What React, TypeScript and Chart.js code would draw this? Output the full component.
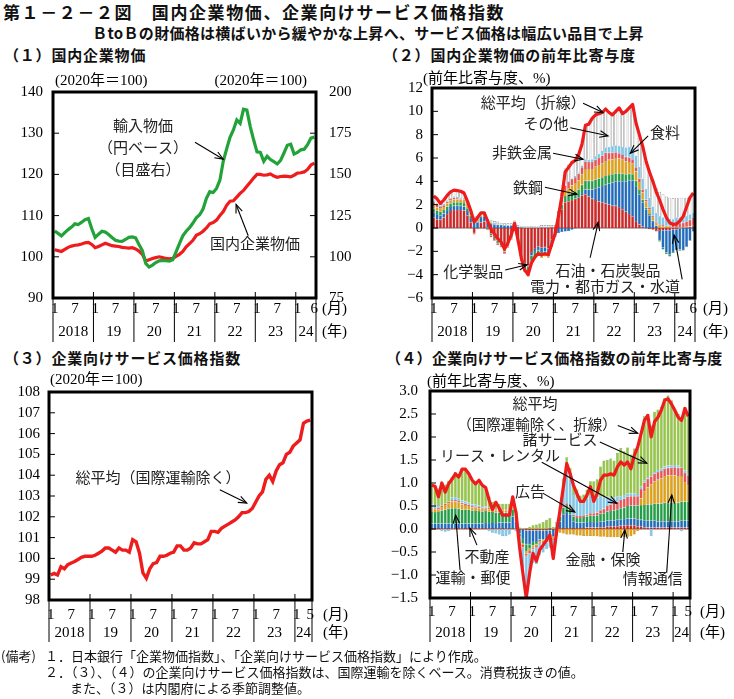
import React, { useEffect, useRef } from 'react';
import { Chart, registerables } from 'chart.js';
Chart.register(...registerables);

const SERIF = "'Liberation Serif', 'Noto Sans CJK JP', serif";
const JP = "'Noto Sans CJK JP', 'Noto Sans', sans-serif";

// ---------- categories ----------
const YEARS = ['2018', '19', '20', '21', '22', '23', '24'];
const MONTHS_A = YEARS.flatMap((y, j) => Array.from({ length: j === 6 ? 6 : 12 }, (_, m) => `${y}/${m + 1}`)); // 2018/1-2024/6
const MONTHS_B = YEARS.flatMap((y, j) => Array.from({ length: j === 6 ? 5 : 12 }, (_, m) => `${y}/${m + 1}`)); // 2018/1-2024/5

// ---------- (1) 国内企業物価 ----------
const DOMESTIC_CGPI = [
  101.7, 101.5, 101.3, 101.8, 102.3, 102.6, 102.8, 102.9, 103.1, 103.4, 103.5, 103.0,
  102.2, 102.5, 102.9, 103.3, 103.0, 102.7, 102.6, 102.5, 102.3, 102.2, 102.1, 102.2,
  101.9, 101.4, 100.6, 99.0, 99.3, 99.6, 99.8, 100.0, 99.8, 99.6, 99.5, 99.6,
  100.1, 100.6, 101.3, 102.4, 103.2, 104.0, 105.2, 105.6, 106.2, 107.0, 108.0, 108.3,
  108.9, 110.0, 111.0, 112.5, 113.5, 113.6, 114.5, 115.4, 116.1, 117.1, 118.1, 119.1,
  120.0, 120.0, 119.8, 119.9, 120.1, 119.6, 119.3, 119.5, 119.6, 119.5, 119.4, 119.8,
  120.3, 120.4, 120.6, 121.2, 122.3, 122.7,
];
const IMPORT_PRICE = [
  115.7, 114.2, 112.7, 114.7, 116.5, 118.0, 120.0, 119.6, 121.0, 122.5, 123.2, 117.0,
  111.7, 113.7, 115.5, 115.0, 113.5, 111.7, 110.0, 109.5, 109.3, 110.5, 111.8, 112.1,
  111.5, 107.5, 103.8, 96.0, 93.8, 95.0, 96.5, 97.5, 97.8, 97.6, 97.4, 98.2,
  103.0, 108.0, 112.7, 115.5, 117.7, 120.5, 123.6, 125.5, 129.0, 135.5, 139.5, 139.0,
  141.5, 146.5, 158.0, 165.5, 172.5, 177.0, 183.0, 181.0, 189.5, 189.0, 179.0, 171.0,
  163.7, 163.3, 158.0, 161.0, 159.0, 157.7, 156.3, 158.5, 163.0, 167.7, 168.3, 162.3,
  163.3, 164.9, 165.3, 168.0, 172.0, 172.6,
];

// ---------- (2) 国内企業物価の前年比寄与度 ----------
const CG_PETROLEUM = [
  0.9, 0.75, 0.7, 0.9, 1.2, 1.45, 1.55, 1.55, 1.55, 1.5, 1.1, 0.5,
  -0.45, -0.05, 0.5, 0.55, 0.05, -0.5, -0.75, -1.05, -1.2, -1.65, -1.2, -0.6,
  0.1, -0.9, -2.3, -3.0, -3.2, -2.15, -1.8, -1.6, -1.7, -1.65, -1.75, -1.0,
  -0.25, 0.8, 1.6, 2.2, 2.3, 2.4, 2.5, 2.6, 2.8, 2.9, 2.7, 2.5,
  2.4, 2.3, 2.2, 2.1, 2.0, 1.9, 1.9, 1.8, 1.6, 1.4, 1.2, 1.0,
  0.6, 0.3, 0.1, -0.05, -0.1, -0.15, -0.25, -0.25, -0.2, -0.2, -0.2, -0.15,
  -0.1, -0.05, 0.0, 0.05, 0.1, 0.15,
];
const CG_ELECTRIC = [
  0.45, 0.45, 0.4, 0.35, 0.35, 0.35, 0.35, 0.35, 0.35, 0.35, 0.35, 0.35,
  0.5, 0.5, 0.45, 0.45, 0.4, 0.35, 0.3, 0.25, 0.25, 0.2, 0.2, 0.2,
  0.15, 0.1, 0.05, 0.0, -0.1, -0.2, -0.25, -0.3, -0.35, -0.35, -0.4, -0.4,
  -0.5, -0.45, -0.35, -0.3, -0.25, -0.15, -0.05, 0.05, 0.2, 0.4, 0.6, 0.8,
  1.0, 1.2, 1.4, 1.6, 1.8, 2.0, 2.1, 2.2, 2.4, 2.6, 2.9, 3.1,
  3.0, 2.6, 2.1, 1.6, 1.1, 0.6, 0.2, -0.8, -1.5, -1.9, -2.1, -1.9,
  -1.7, -1.8, -1.9, -1.6, -1.1, -0.3,
];
const CG_CHEMICAL = [
  0.3, 0.3, 0.3, 0.3, 0.3, 0.3, 0.3, 0.3, 0.3, 0.3, 0.25, 0.2,
  0.1, 0.05, 0.0, -0.05, -0.1, -0.15, -0.2, -0.25, -0.3, -0.35, -0.35, -0.3,
  -0.2, -0.25, -0.35, -0.5, -0.55, -0.45, -0.4, -0.35, -0.35, -0.3, -0.3, -0.2,
  0.0, 0.2, 0.4, 0.55, 0.6, 0.65, 0.65, 0.65, 0.7, 0.75, 0.75, 0.75,
  0.75, 0.75, 0.75, 0.75, 0.75, 0.7, 0.7, 0.7, 0.65, 0.6, 0.55, 0.5,
  0.45, 0.35, 0.25, 0.15, 0.1, 0.05, -0.05, -0.1, -0.15, -0.15, -0.15, -0.1,
  -0.1, -0.1, -0.05, -0.05, 0.0, 0.05,
];
const CG_STEEL = [
  0.25, 0.25, 0.25, 0.25, 0.25, 0.25, 0.25, 0.25, 0.25, 0.25, 0.25, 0.25,
  0.2, 0.2, 0.15, 0.15, 0.1, 0.1, 0.05, 0.05, 0.0, -0.05, -0.05, -0.05,
  -0.05, -0.05, -0.05, -0.1, -0.15, -0.15, -0.15, -0.15, -0.15, -0.15, -0.1, -0.05,
  0.0, 0.1, 0.2, 0.4, 0.5, 0.6, 0.7, 0.8, 0.9, 1.0, 1.0, 1.0,
  1.1, 1.15, 1.2, 1.3, 1.3, 1.3, 1.3, 1.25, 1.2, 1.1, 1.0, 0.9,
  0.8, 0.7, 0.6, 0.5, 0.4, 0.3, 0.25, 0.2, 0.15, 0.1, 0.1, 0.05,
  0.05, 0.05, 0.05, 0.05, 0.05, 0.05,
];
const CG_NONFERROUS = [
  0.3, 0.25, 0.15, 0.15, 0.15, 0.15, 0.15, 0.1, 0.05, 0.05, 0.0, -0.05,
  -0.1, -0.05, -0.05, -0.05, -0.1, -0.15, -0.15, -0.15, -0.15, -0.15, -0.1, -0.05,
  0.0, -0.05, -0.1, -0.15, -0.15, -0.1, -0.05, 0.0, 0.05, 0.05, 0.05, 0.1,
  0.15, 0.25, 0.35, 0.5, 0.55, 0.55, 0.5, 0.55, 0.6, 0.65, 0.6, 0.6,
  0.6, 0.6, 0.65, 0.7, 0.6, 0.55, 0.5, 0.45, 0.4, 0.4, 0.4, 0.4,
  0.35, 0.3, 0.25, 0.2, 0.15, 0.1, 0.1, 0.1, 0.1, 0.1, 0.1, 0.15,
  0.3, 0.35, 0.4, 0.45, 0.55, 0.6,
];
const CG_FOOD = [
  0.1, 0.1, 0.1, 0.1, 0.1, 0.1, 0.1, 0.1, 0.1, 0.1, 0.1, 0.1,
  0.1, 0.1, 0.1, 0.1, 0.1, 0.1, 0.1, 0.1, 0.05, 0.05, 0.05, 0.05,
  0.05, 0.05, 0.05, 0.05, 0.05, 0.05, 0.05, 0.05, 0.05, 0.05, 0.05, 0.05,
  0.0, 0.0, 0.05, 0.05, 0.05, 0.05, 0.1, 0.1, 0.15, 0.2, 0.2, 0.25,
  0.3, 0.35, 0.4, 0.45, 0.5, 0.55, 0.6, 0.65, 0.7, 0.8, 0.9, 1.0,
  1.0, 1.0, 0.95, 0.9, 0.85, 0.8, 0.75, 0.7, 0.65, 0.6, 0.6, 0.55,
  0.55, 0.5, 0.5, 0.45, 0.45, 0.45,
];
const CG_OTHER = [
  0.45, 0.4, 0.2, 0.35, 0.45, 0.5, 0.55, 0.55, 0.55, 0.45, 0.25, 0.15,
  0.15, 0.15, 0.15, 0.15, 0.15, 0.15, 0.15, 0.15, 0.15, 0.15, 0.15, 0.15,
  0.35, 0.1, 0.1, 0.1, 0.1, 0.1, 0.1, 0.15, 0.15, 0.15, 0.15, 0.1,
  0.1, 0.1, 0.45, 1.4, 1.45, 1.5, 1.4, 1.55, 1.85, 2.9, 3.05, 3.5,
  3.55, 3.45, 3.3, 3.3, 2.95, 2.7, 2.9, 3.25, 2.85, 3.1, 3.35, 3.7,
  2.8, 2.75, 2.75, 2.4, 2.3, 2.3, 2.1, 2.1, 2.0, 1.9, 1.8, 1.8,
  1.7, 1.7, 1.65, 1.6, 1.55, 1.5,
];
const CG_TOTAL = [
  2.75, 2.5, 2.1, 2.4, 2.8, 3.1, 3.25, 3.2, 3.15, 3.0, 2.3, 1.5,
  0.5, 0.9, 1.3, 1.3, 0.6, -0.1, -0.5, -0.9, -1.2, -1.8, -1.3, -0.6,
  0.4, -1.0, -2.6, -3.6, -4.0, -3.0, -2.5, -2.2, -2.3, -2.2, -2.3, -1.4,
  -0.5, 1.0, 2.7, 4.8, 5.2, 5.6, 5.8, 6.3, 7.2, 8.8, 8.9, 9.4,
  9.7, 9.8, 9.9, 10.2, 9.9, 9.7, 10.0, 10.3, 9.8, 10.0, 10.3, 10.6,
  9.0, 8.0, 7.0, 5.7, 4.8, 4.0, 3.1, 2.4, 1.6, 0.9, 0.45, 0.3,
  0.35, 0.6, 1.0, 1.8, 2.6, 3.0,
];

// ---------- (3) 企業向けサービス価格指数 ----------
const SPPI = [
  99.2, 99.28, 99.2, 99.6, 99.5, 99.7, 99.78, 99.85, 99.95, 100.05, 100.1, 100.1,
  100.1, 100.15, 100.25, 100.35, 100.5, 100.5, 100.4, 100.3, 100.5, 100.4, 100.4, 100.3,
  100.9, 100.8, 100.25, 99.3, 99.05, 99.5, 99.75, 99.8, 100.1, 100.1, 100.15, 100.25,
  100.3, 100.6, 100.6, 100.4, 100.4, 100.5, 100.75, 100.7, 100.7, 100.8, 100.9, 101.3,
  101.3, 101.25, 101.45, 101.55, 101.65, 101.75, 101.85, 102.0, 102.2, 102.2, 102.25, 102.4,
  102.7, 103.0, 103.2, 103.8, 104.0, 103.7, 104.2, 104.5, 104.6, 105.0, 105.1, 105.4,
  105.55, 105.7, 106.5, 106.6, 106.65,
];

// ---------- (4) 企業向けサービス価格指数の前年比寄与度 ----------
const SP_FINANCE = [
  0.02, 0.02, 0.02, 0.02, 0.02, 0.02, 0.02, 0.02, 0.02, 0.02, 0.02, 0.02,
  0.02, 0.02, 0.02, 0.02, 0.02, 0.02, 0.02, 0.02, 0.02, 0.02, 0.02, 0.02,
  0.02, 0.02, 0.0, -0.02, -0.03, -0.03, -0.03, -0.03, -0.03, -0.03, -0.03, -0.03,
  -0.02, 0.0, 0.02, 0.02, 0.02, 0.02, 0.02, 0.02, 0.02, 0.02, 0.03, 0.03,
  0.03, 0.03, 0.04, 0.04, 0.05, 0.05, 0.06, 0.06, 0.07, 0.08, 0.08, 0.08,
  0.08, 0.06, 0.05, 0.04, 0.03, 0.03, 0.03, 0.03, 0.03, 0.03, 0.03, 0.03,
  0.03, 0.03, 0.03, 0.03, 0.03,
];
const SP_REALESTATE = [
  0.1, 0.1, 0.1, 0.1, 0.1, 0.1, 0.1, 0.1, 0.1, 0.1, 0.1, 0.1,
  0.1, 0.1, 0.1, 0.1, 0.11, 0.11, 0.11, 0.11, 0.12, 0.12, 0.12, 0.12,
  0.25, 0.15, -0.1, -0.2, -0.3, -0.3, -0.25, -0.25, -0.2, -0.2, -0.2, -0.2,
  -0.15, -0.05, 0.15, 0.3, 0.35, 0.3, 0.15, 0.12, 0.12, 0.12, 0.12, 0.12,
  0.12, 0.12, 0.12, 0.12, 0.13, 0.13, 0.13, 0.14, 0.14, 0.14, 0.15, 0.15,
  0.15, 0.15, 0.15, 0.15, 0.15, 0.15, 0.15, 0.14, 0.14, 0.14, 0.14, 0.14,
  0.14, 0.14, 0.15, 0.15, 0.15,
];
const SP_TRANSPORT = [
  0.25, 0.25, 0.25, 0.28, 0.3, 0.32, 0.33, 0.33, 0.32, 0.3, 0.3, 0.3,
  0.28, 0.27, 0.27, 0.26, 0.26, 0.25, 0.24, 0.23, 0.22, 0.22, 0.22, 0.22,
  0.15, 0.1, -0.05, -0.1, -0.15, -0.1, -0.08, -0.05, -0.03, -0.02, 0.0, 0.02,
  0.0, 0.05, 0.1, 0.15, 0.15, 0.12, 0.1, 0.1, 0.1, 0.12, 0.12, 0.14,
  0.14, 0.15, 0.17, 0.18, 0.2, 0.21, 0.22, 0.23, 0.24, 0.25, 0.27, 0.28,
  0.28, 0.3, 0.32, 0.33, 0.35, 0.36, 0.37, 0.38, 0.38, 0.4, 0.4, 0.4,
  0.4, 0.4, 0.42, 0.42, 0.42,
];
const SP_ICT = [
  0.05, 0.05, 0.06, 0.08, 0.1, 0.12, 0.15, 0.15, 0.14, 0.12, 0.1, 0.08,
  0.07, 0.07, 0.06, 0.06, 0.05, 0.05, 0.04, 0.04, 0.04, 0.04, 0.04, 0.04,
  0.03, 0.02, 0.0, -0.03, -0.05, -0.05, -0.04, -0.04, -0.03, -0.03, -0.03, -0.03,
  -0.05, -0.05, -0.08, -0.1, -0.12, -0.12, -0.12, -0.14, -0.14, -0.15, -0.15, -0.15,
  -0.16, -0.16, -0.17, -0.17, -0.18, -0.18, -0.18, -0.18, -0.18, -0.18, -0.17, -0.16,
  -0.12, -0.05, 0.15, 0.3, 0.38, 0.42, 0.48, 0.52, 0.55, 0.58, 0.6, 0.6,
  0.6, 0.58, 0.55, 0.42, 0.35,
];
const SP_LEASING = [
  0.03, 0.03, 0.03, 0.03, 0.03, 0.03, 0.03, 0.03, 0.03, 0.03, 0.03, 0.03,
  0.03, 0.03, 0.03, 0.03, 0.03, 0.03, 0.03, 0.03, 0.03, 0.03, 0.03, 0.03,
  0.02, 0.01, -0.02, -0.05, -0.05, -0.05, -0.04, -0.04, -0.03, -0.03, -0.03, -0.03,
  -0.02, 0.0, 0.02, 0.03, 0.04, 0.04, 0.04, 0.04, 0.04, 0.04, 0.04, 0.05,
  0.05, 0.06, 0.08, 0.1, 0.12, 0.14, 0.16, 0.17, 0.18, 0.19, 0.2, 0.2,
  0.2, 0.2, 0.2, 0.19, 0.18, 0.18, 0.17, 0.17, 0.16, 0.16, 0.16, 0.16,
  0.17, 0.18, 0.18, 0.2, 0.2,
];
const SP_ADVERTISING = [
  0.08, 0.07, 0.06, -0.05, -0.06, -0.05, 0.05, 0.06, 0.05, 0.05, 0.05, 0.04,
  0.04, 0.04, 0.03, 0.03, 0.02, -0.05, -0.08, -0.1, -0.12, -0.15, -0.15, -0.12,
  0.02, -0.05, -0.2, -0.45, -0.75, -0.5, -0.3, -0.35, -0.25, -0.2, -0.15, -0.12,
  -0.35, -0.05, 0.1, 0.45, 0.7, 0.6, 0.45, 0.38, 0.3, 0.3, 0.35, 0.4,
  0.35, 0.32, 0.3, 0.25, 0.2, 0.15, 0.12, 0.1, 0.08, 0.08, 0.07, 0.06,
  0.06, 0.05, 0.05, 0.04, 0.04, -0.15, 0.04, 0.04, 0.05, 0.05, 0.05, 0.05,
  0.05, 0.05, -0.05, 0.05, 0.05,
];
const SP_OTHERSVC = [
  0.45, 0.43, 0.36, 0.49, 0.42, 0.46, 0.45, 0.55, 0.54, 0.69, 0.68, 0.63,
  0.52, 0.49, 0.48, 0.46, 0.43, 0.24, 0.15, 0.18, 0.12, 0.12, 0.12, 0.12,
  0.2, 0.1, 0.03, 0.0, 0.02, 0.05, 0.08, 0.1, 0.12, 0.15, 0.2, 0.22,
  0.05, 0.1, 0.1, 0.15, 0.3, 0.25, 0.2, 0.2, 0.15, 0.15, 0.2, 0.3,
  0.35, 0.4, 0.65, 0.8, 0.8, 0.85, 0.8, 0.95, 1.05, 0.95, 1.0, 0.85,
  0.98, 0.99, 1.13, 1.4, 1.37, 1.11, 1.31, 1.32, 1.34, 1.49, 1.52, 1.42,
  1.21, 1.12, 1.07, 1.38, 1.25,
];
const SP_TOTAL = [
  0.95, 0.93, 0.7, 1.0, 0.8, 0.98, 1.08, 1.2, 1.13, 1.3, 1.3, 1.2,
  1.06, 0.98, 1.06, 0.95, 0.9, 0.63, 0.42, 0.58, 0.45, 0.3, 0.3, 0.3,
  0.7, 0.34, -0.38, -0.96, -1.5, -0.96, -0.53, -0.7, -0.45, -0.35, -0.24, -0.13,
  -0.64, -0.06, 0.41, 0.92, 1.42, 1.2, 0.95, 0.77, 0.6, 0.6, 0.74, 0.92,
  0.6, 0.77, 1.06, 1.17, 1.17, 1.2, 1.17, 1.35, 1.46, 1.39, 1.46, 1.31,
  1.6, 1.78, 2.07, 2.36, 2.47, 2.0, 2.33, 2.43, 2.58, 2.8, 2.83, 2.72,
  2.58, 2.43, 2.36, 2.62, 2.45,
];

// ---------- styles ----------
const RED_LINE = '#ee1c1c';
const GREEN_LINE = '#22a33a';

type Note = { text: string; i: number; v: number; size?: number };
type Arrow = { from: [number, number]; to: [number, number] };
type Unit = { text: string; side: 'left' | 'right'; dx: number };
interface DecorCfg {
  n: number; lastLabel: string;
  monthDy: number; yearDy: number; sepDy: number; unitLabelDx: number;
  units: Unit[]; unitDy: number;
  notes: Note[]; arrows: Arrow[];
  zero?: boolean; rightTicks?: boolean;
}

function drawArrow(ctx: CanvasRenderingContext2D, x1: number, y1: number, x2: number, y2: number) {
  ctx.beginPath(); ctx.moveTo(x1, y1); ctx.lineTo(x2, y2); ctx.stroke();
  const a = Math.atan2(y2 - y1, x2 - x1); const L = 9, w = 0.38;
  ctx.beginPath();
  ctx.moveTo(x2 - L * Math.cos(a - w), y2 - L * Math.sin(a - w));
  ctx.lineTo(x2, y2);
  ctx.lineTo(x2 - L * Math.cos(a + w), y2 - L * Math.sin(a + w));
  ctx.stroke();
}

function decor(cfg: DecorCfg) {
  return {
    id: 'decor',
    beforeDatasetsDraw(chart: any) {
      if (!cfg.zero) return;
      const { ctx, chartArea: ca, scales } = chart;
      const y0 = scales.y.getPixelForValue(0);
      ctx.save(); ctx.strokeStyle = '#666'; ctx.lineWidth = 1;
      ctx.beginPath(); ctx.moveTo(ca.left, y0); ctx.lineTo(ca.right, y0); ctx.stroke();
      ctx.restore();
    },
    afterDraw(chart: any) {
      const { ctx, chartArea: ca, scales } = chart;
      const xs = scales.x, ys = scales.y;
      ctx.save();
      ctx.strokeStyle = '#000'; ctx.fillStyle = '#000';
      // inner y ticks
      ctx.lineWidth = 1;
      ys.ticks.forEach((t: any) => {
        const y = ys.getPixelForValue(t.value);
        ctx.beginPath(); ctx.moveTo(ca.left, y); ctx.lineTo(ca.left + 6, y); ctx.stroke();
      });
      if (cfg.rightTicks && scales.y2) {
        scales.y2.ticks.forEach((t: any) => {
          const y = scales.y2.getPixelForValue(t.value);
          ctx.beginPath(); ctx.moveTo(ca.right - 6, y); ctx.lineTo(ca.right, y); ctx.stroke();
        });
      }
      // x axis: year separators
      const step = xs.getPixelForValue(1) - xs.getPixelForValue(0);
      const bounds: number[] = [];
      for (let k = 0; k < cfg.n; k += 12) bounds.push(xs.getPixelForValue(k) - step / 2);
      bounds.push(xs.getPixelForValue(cfg.n - 1) + step / 2);
      bounds.forEach((bx) => {
        ctx.beginPath(); ctx.moveTo(bx, ca.bottom - 6); ctx.lineTo(bx, ca.bottom + cfg.sepDy); ctx.stroke();
      });
      ctx.font = `15px ${SERIF}`; ctx.textAlign = 'center'; ctx.textBaseline = 'middle';
      for (let k = 0; k < cfg.n; k++) {
        const m = k % 12; let lab = '';
        if (k === cfg.n - 1) lab = cfg.lastLabel; else if (m === 0) lab = '1'; else if (m === 6) lab = '7';
        if (lab) ctx.fillText(lab, xs.getPixelForValue(k), ca.bottom + cfg.monthDy);
      }
      YEARS.forEach((yl, j) => ctx.fillText(yl, (bounds[j] + bounds[j + 1]) / 2, ca.bottom + cfg.yearDy));
      ctx.textAlign = 'left';
      ctx.fillText('(月)', ca.right + cfg.unitLabelDx, ca.bottom + cfg.monthDy);
      ctx.fillText('(年)', ca.right + cfg.unitLabelDx, ca.bottom + cfg.yearDy);
      // units
      cfg.units.forEach((u) => {
        ctx.textAlign = u.side === 'left' ? 'left' : 'right';
        ctx.fillText(u.text, (u.side === 'left' ? ca.left : ca.right) + u.dx, ca.top + cfg.unitDy);
      });
      // annotations
      ctx.textAlign = 'center';
      cfg.notes.forEach((nt) => {
        ctx.font = `${nt.size || 15}px ${JP}`;
        ctx.fillStyle = '#222';
        ctx.fillText(nt.text, xs.getPixelForValue(nt.i), ys.getPixelForValue(nt.v));
      });
      ctx.strokeStyle = '#000'; ctx.lineWidth = 1.1;
      cfg.arrows.forEach((a) => drawArrow(ctx,
        xs.getPixelForValue(a.from[0]), ys.getPixelForValue(a.from[1]),
        xs.getPixelForValue(a.to[0]), ys.getPixelForValue(a.to[1])));
      // frame
      ctx.strokeStyle = '#000'; ctx.lineWidth = 3;
      ctx.strokeRect(ca.left, ca.top, ca.right - ca.left, ca.bottom - ca.top);
      ctx.restore();
    },
  };
}

const minus = (s: string) => s.replace('-', '−');

function yAxis(min: number, max: number, step: number, width: number, pad: number, position: 'left' | 'right', digits = 0, stacked = false) {
  return {
    type: 'linear', min, max, position, stacked,
    grid: { display: false, drawTicks: false },
    border: { display: false },
    ticks: {
      stepSize: step, padding: pad, color: '#000', autoSkip: false,
      font: { family: SERIF, size: 15 },
      callback: (v: any) => minus(Number(v).toFixed(digits)),
    },
    afterFit: (s: any) => { s.width = width; },
  };
}

const baseOpts = (padding: any) => ({
  responsive: false, animation: false, devicePixelRatio: 1,
  layout: { padding },
  plugins: { legend: { display: false }, tooltip: { enabled: false } },
  events: [],
});

const bar = (label: string, data: number[], bg: string, border: string, bw = 0.4) => ({
  type: 'bar', label, data, backgroundColor: bg, borderColor: border, borderWidth: bw,
  stack: 's', order: 1, barPercentage: 0.86, categoryPercentage: 1,
});
const totalLine = (data: number[]) => ({
  type: 'line', label: '総平均', data, borderColor: RED_LINE, borderWidth: 3.2, pointRadius: 0,
  tension: 0, order: 0, stack: 'line', borderJoinStyle: 'round',
});

const config1 = () => ({
  type: 'line',
  data: {
    labels: MONTHS_A,
    datasets: [
      { label: '輸入物価', data: IMPORT_PRICE, yAxisID: 'y2', borderColor: GREEN_LINE, borderWidth: 3.2, pointRadius: 0, tension: 0 },
      { label: '国内企業物価', data: DOMESTIC_CGPI, yAxisID: 'y', borderColor: RED_LINE, borderWidth: 3.2, pointRadius: 0, tension: 0 },
    ],
  },
  options: {
    ...baseOpts({ top: 19, bottom: 57, left: 0, right: 0 }),
    scales: {
      x: { type: 'category', display: false, offset: true },
      y: yAxis(90, 140, 10, 53, 10, 'left'),
      y2: yAxis(75, 200, 25, 51, 13, 'right'),
    },
  },
  plugins: [decor({
    n: 78, lastLabel: '6', monthDy: 11, yearDy: 34, sepDy: 44, unitLabelDx: 6,
    units: [{ text: '(2020年＝100)', side: 'left', dx: 2 }, { text: '(2020年＝100)', side: 'right', dx: -9 }], unitDy: -11,
    rightTicks: true,
    notes: [
      { text: '輸入物価', i: 26.2, v: 131.9 },
      { text: '（円ベース）', i: 26.2, v: 126.6 },
      { text: '（目盛右）', i: 26.2, v: 121.3 },
      { text: '国内企業物価', i: 59.4, v: 103.2 },
    ],
    arrows: [
      { from: [41.6, 127.8], to: [50, 123.7] },
      { from: [57.4, 105.1], to: [53.8, 112.7] },
    ],
  })],
});

const config2 = () => ({
  type: 'bar',
  data: {
    labels: MONTHS_A,
    datasets: [
      totalLine(CG_TOTAL),
      bar('石油・石炭製品', CG_PETROLEUM, '#d02626', '#8e0e0e'),
      bar('電力・都市ガス・水道', CG_ELECTRIC, '#1c6cc0', '#0e3f78'),
      bar('化学製品', CG_CHEMICAL, '#1fa046', '#106a2c'),
      bar('鉄鋼', CG_STEEL, '#e0a010', '#9a6a00'),
      bar('非鉄金属', CG_NONFERROUS, '#ec5252', '#b02c2c'),
      bar('食料', CG_FOOD, '#7ec8ea', '#4690b4'),
      bar('その他', CG_OTHER, '#ffffff', '#8a8a8a', 0.7),
    ],
  },
  options: {
    ...baseOpts({ top: 17, bottom: 57, left: 0, right: 39 }),
    scales: {
      x: { type: 'category', display: false, offset: true, stacked: true },
      y: yAxis(-6, 12, 2, 62, 9, 'left', 0, true),
    },
  },
  plugins: [decor({
    n: 78, lastLabel: '6', monthDy: 11, yearDy: 34, sepDy: 44, unitLabelDx: 8,
    units: [{ text: '(前年比寄与度、%)', side: 'left', dx: -9 }], unitDy: -9,
    zero: true,
    notes: [
      { text: '総平均（折線）', i: 29.5, v: 10.8 },
      { text: 'その他', i: 33.3, v: 8.95 },
      { text: '非鉄金属', i: 26.2, v: 6.5 },
      { text: '鉄鋼', i: 28, v: 3.5 },
      { text: '食料', i: 68.6, v: 8.2 },
      { text: '化学製品', i: 11.7, v: -3.75 },
      { text: '石油・石炭製品', i: 51.7, v: -3.6 },
      { text: '電力・都市ガス・水道', i: 50.8, v: -5.0 },
    ],
    arrows: [
      { from: [44.3, 10.7], to: [50.2, 9.9] },
      { from: [40.5, 8.6], to: [51.7, 7.9] },
      { from: [35.4, 6.4], to: [44.3, 5.9] },
      { from: [33, 3.5], to: [42.5, 2.9] },
      { from: [63.6, 7.9], to: [58.3, 6.4] },
      { from: [21.2, -3.6], to: [27.7, -3.15] },
      { from: [46.4, -2.55], to: [48.8, 0.5] },
      { from: [73.7, -4.4], to: [71.3, -0.6] },
    ],
  })],
});

const config3 = () => ({
  type: 'line',
  data: {
    labels: MONTHS_B,
    datasets: [
      { label: '総平均（国際運輸除く）', data: SPPI, borderColor: RED_LINE, borderWidth: 3.4, pointRadius: 0, tension: 0 },
    ],
  },
  options: {
    ...baseOpts({ top: 22, bottom: 55, left: 0, right: 55 }),
    scales: {
      x: { type: 'category', display: false, offset: true },
      y: yAxis(98, 108, 1, 49, 9, 'left'),
    },
  },
  plugins: [decor({
    n: 77, lastLabel: '5', monthDy: 15, yearDy: 33, sepDy: 42, unitLabelDx: 11,
    units: [{ text: '(2020年＝100)', side: 'left', dx: 1 }], unitDy: -12,
    notes: [{ text: '総平均（国際運輸除く）', i: 31.4, v: 103.9 }],
    arrows: [{ from: [49.5, 103.3], to: [57.4, 102.66] }],
  })],
});

const config4 = () => ({
  type: 'bar',
  data: {
    labels: MONTHS_B,
    datasets: [
      totalLine(SP_TOTAL),
      bar('金融・保険', SP_FINANCE, '#d02020', '#8a0c0c'),
      bar('不動産', SP_REALESTATE, '#1c6cc0', '#0e3f78'),
      bar('運輸・郵便', SP_TRANSPORT, '#1fa046', '#106a2c'),
      bar('情報通信', SP_ICT, '#e0a010', '#9a6a00'),
      bar('リース・レンタル', SP_LEASING, '#ec5252', '#b02c2c'),
      bar('広告', SP_ADVERTISING, '#7ec8ea', '#4690b4'),
      bar('諸サービス', SP_OTHERSVC, '#96c646', '#628e22'),
    ],
  },
  options: {
    ...baseOpts({ top: 21, bottom: 57, left: 0, right: 44 }),
    scales: {
      x: { type: 'category', display: false, offset: true, stacked: true },
      y: yAxis(-1.5, 3.0, 0.5, 60, 12, 'left', 1, true),
    },
  },
  plugins: [decor({
    n: 77, lastLabel: '5', monthDy: 14, yearDy: 35, sepDy: 44, unitLabelDx: 10,
    units: [{ text: '(前年比寄与度、%)', side: 'left', dx: -3 }], unitDy: -9,
    zero: true,
    notes: [
      { text: '総平均', i: 30.6, v: 2.73 },
      { text: '（国際運輸除く、折線）', i: 31.2, v: 2.27, size: 14.5 },
      { text: '諸サービス', i: 38, v: 1.95 },
      { text: 'リース・レンタル', i: 20.2, v: 1.6 },
      { text: '広告', i: 29.1, v: 0.82 },
      { text: '不動産', i: 16.4, v: -0.6 },
      { text: '運輸・郵便', i: 12.2, v: -1.06 },
      { text: '金融・保険', i: 50.7, v: -0.65 },
      { text: '情報通信', i: 65.5, v: -1.08 },
    ],
    arrows: [
      { from: [55.1, 2.25], to: [61.0, 2.08] },
      { from: [49.8, 1.89], to: [63.7, 1.43] },
      { from: [32.6, 1.45], to: [54.8, 0.56] },
      { from: [32.9, 0.78], to: [42.4, 0.37] },
      { from: [13.4, -0.35], to: [11.3, 0.02] },
      { from: [8.4, -0.89], to: [7.1, 0.3] },
      { from: [56.6, -0.5], to: [57.2, -0.02] },
      { from: [69.6, -0.95], to: [71.1, 0.74] },
    ],
  })],
});

function ChartBox({ left, top, width, height, make }: { left: number; top: number; width: number; height: number; make: () => any }) {
  const ref = useRef<HTMLCanvasElement>(null);
  useEffect(() => {
    const chart = new Chart(ref.current as HTMLCanvasElement, make());
    return () => chart.destroy();
  }, []);
  return <canvas ref={ref} width={width} height={height} style={{ position: 'absolute', left, top, width, height }} />;
}

const txt = (style: React.CSSProperties, children: React.ReactNode) => (
  <div style={{ position: 'absolute', whiteSpace: 'nowrap', color: '#111', ...style }}>{children}</div>
);

export default function App() {
  const title = { fontFamily: JP, fontWeight: 700 } as React.CSSProperties;
  const note = { fontFamily: JP, fontSize: 13, lineHeight: '16px' } as React.CSSProperties;
  return (
    <div style={{ position: 'absolute', left: 0, top: 0, width: 734, height: 699, background: '#fff', overflow: 'hidden' }}>
      {txt({ ...title, left: 3, top: 2, fontSize: 17, lineHeight: '20px', letterSpacing: 1.6 }, '第１－２－２図　国内企業物価、企業向けサービス価格指数')}
      {txt({ ...title, left: 0, width: 736, textAlign: 'center', top: 24, fontSize: 15, lineHeight: '18px', letterSpacing: 0.3 }, 'ＢtoＢの財価格は横ばいから緩やかな上昇へ、サービス価格は幅広い品目で上昇')}
      {txt({ ...title, left: 4, top: 46, fontSize: 15, lineHeight: '18px', letterSpacing: 0.8 }, '（１）国内企業物価')}
      {txt({ ...title, left: 383, top: 46, fontSize: 15, lineHeight: '18px', letterSpacing: 0.8 }, '（２）国内企業物価の前年比寄与度')}
      {txt({ ...title, left: 4, top: 349, fontSize: 15, lineHeight: '18px', letterSpacing: 0.8 }, '（３）企業向けサービス価格指数')}
      {txt({ ...title, left: 386, top: 349, fontSize: 15, lineHeight: '18px', letterSpacing: 0.3 }, '（４）企業向けサービス価格指数の前年比寄与度')}
      <ChartBox left={0} top={70} width={367} height={285} make={config1} />
      <ChartBox left={370} top={70} width={364} height={285} make={config2} />
      <ChartBox left={0} top={370} width={367} height={285} make={config3} />
      <ChartBox left={370} top={370} width={364} height={285} make={config4} />
      {txt({ ...note, left: 1, top: 648 }, '(備考)')}
      {txt({ ...note, left: 45, top: 648 }, '１．日本銀行「企業物価指数」、「企業向けサービス価格指数」により作成。')}
      {txt({ ...note, left: 45, top: 664 }, '２．（３）、（４）の企業向けサービス価格指数は、国際運輸を除くベース。消費税抜きの値。')}
      {txt({ ...note, left: 70, top: 680 }, 'また、（３）は内閣府による季節調整値。')}
    </div>
  );
}
